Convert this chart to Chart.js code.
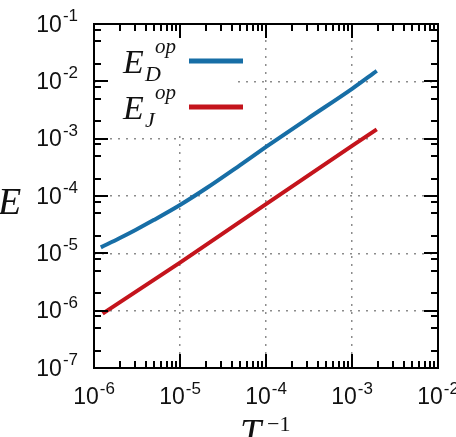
<!DOCTYPE html>
<html lang="en">
  <head>
    <meta charset="UTF-8" />
    <title>E vs T^-1</title>
    <style>
      html, body { margin: 0; padding: 0; background: #fff; }
      .box { width: 456px; height: 437px; }
    </style>
  </head>
  <body>
    <div class="box"><canvas id="myChart"></canvas></div>

    <script src="https://cdn.jsdelivr.net/npm/chart.js@4/dist/chart.umd.min.js"></script>

    <!-- data -->
    <script>
      var xD = [1.2e-6, 2e-6, 3e-6, 5e-6, 1e-5, 2e-5, 5e-5, 1e-4, 3e-4, 1e-3, 1.94e-3];
      var yD = [1.27e-5, 1.85e-5, 2.53e-5, 3.84e-5, 6.97e-5, 1.35e-4, 3.46e-4, 7.16e-4, 2.2e-3, 7.4e-3, 1.52e-2];
      var xJ = [1.26e-6, 1e-5, 1e-4, 1e-3, 1.94e-3];
      var yJ = [8.9e-7, 6.9e-6, 7.2e-5, 7.5e-4, 1.45e-3];
      var seriesSub = ["D", "J"];
      var seriesColor = ["#176ea6", "#c4141c"];
      var xTicks = [1e-6, 1e-5, 1e-4, 1e-3, 1e-2];
      var yTicks = [1e-7, 1e-6, 1e-5, 1e-4, 1e-3, 1e-2, 1e-1];
      var xMinor = [2, 3, 4, 5, 6, 7, 8, 9];
      var yMinor = [2, 5, 8];
    </script>

    <script>
      function pts(xs, ys) {
        return xs.map(function (x, i) { return { x: x, y: ys[i] }; });
      }

      // draws "10" with a raised exponent
      function pow10(ctx, v, x, base, align) {
        var e = String(Math.round(Math.log10(v)));
        ctx.font = "23px 'Liberation Sans', Arial, sans-serif";
        var w1 = ctx.measureText("10").width;
        ctx.font = "17px 'Liberation Sans', Arial, sans-serif";
        var w2 = ctx.measureText(e).width;
        var w = w1 + w2 + 1;
        var x0 = align === "right" ? x - w : x - w / 2;
        ctx.textAlign = "left";
        ctx.font = "23px 'Liberation Sans', Arial, sans-serif";
        ctx.fillText("10", x0, base);
        ctx.font = "17px 'Liberation Sans', Arial, sans-serif";
        ctx.fillText(e, x0 + w1 + 1, base - 10.5);
      }

      var decor = {
        id: "decor",
        afterDatasetsDraw: function (chart) {
          var ctx = chart.ctx;
          var a = chart.chartArea;
          var xs = chart.scales.x;
          var ys = chart.scales.y;
          ctx.save();

          // key background hides the grid
          ctx.fillStyle = "#fff";
          ctx.fillRect(a.left + 2, a.top + 2, 137, 109);

          // inner ticks on all four sides
          ctx.strokeStyle = "#000";
          ctx.lineWidth = 2;
          ctx.beginPath();
          for (var d = -6; d <= -2; d++) {
            var ms = d < -2 ? [1].concat(xMinor) : [1];
            ms.forEach(function (m) {
              var px = Math.round(xs.getPixelForValue(m * Math.pow(10, d)));
              var len = m === 1 ? 14 : 7;
              ctx.moveTo(px, a.bottom); ctx.lineTo(px, a.bottom - len);
              ctx.moveTo(px, a.top); ctx.lineTo(px, a.top + len);
            });
          }
          for (var k = -7; k <= -1; k++) {
            var my = k < -1 ? [1].concat(yMinor) : [1];
            my.forEach(function (m) {
              var py = Math.round(ys.getPixelForValue(m * Math.pow(10, k)));
              var len = m === 1 ? 14 : 7;
              ctx.moveTo(a.left, py); ctx.lineTo(a.left + len, py);
              ctx.moveTo(a.right, py); ctx.lineTo(a.right - len, py);
            });
          }
          ctx.stroke();
          ctx.strokeRect(a.left, a.top, a.right - a.left, a.bottom - a.top);

          // tick labels
          ctx.fillStyle = "#111";
          ctx.textBaseline = "alphabetic";
          xTicks.forEach(function (v) {
            pow10(ctx, v, xs.getPixelForValue(v), a.bottom + 36, "center");
          });
          yTicks.forEach(function (v) {
            pow10(ctx, v, a.left - 16, ys.getPixelForValue(v) + 7.5, "right");
          });

          // axis titles
          ctx.textAlign = "left";
          ctx.font = "italic 38px 'Liberation Serif', 'DejaVu Serif', serif";
          ctx.fillText("E", -2, 214);
          ctx.fillText("T", 240, 445);
          ctx.font = "22px 'Liberation Serif', 'DejaVu Serif', serif";
          ctx.fillText("\u22121", 267, 431);

          // key
          seriesSub.forEach(function (s, i) {
            var off = i * 46;
            ctx.fillStyle = "#111";
            ctx.font = "italic 34px 'Liberation Serif', 'DejaVu Serif', serif";
            ctx.fillText("E", 123, 73 + off);
            ctx.font = "italic 21px 'Liberation Serif', 'DejaVu Serif', serif";
            ctx.fillText("op", 155, 53 + off);
            ctx.font = "italic 22px 'Liberation Serif', 'DejaVu Serif', serif";
            ctx.fillText(s, 145, 81 + off);
            ctx.strokeStyle = seriesColor[i];
            ctx.lineWidth = 5;
            ctx.beginPath();
            ctx.moveTo(189, 61 + off);
            ctx.lineTo(243, 61 + off);
            ctx.stroke();
          });
          ctx.restore();
        },
      };

      var ctx = document.getElementById("myChart").getContext("2d");
      var myChart = new Chart(ctx, {
        type: "scatter",
        data: {
          datasets: [
            { label: "E_D^op", data: pts(xD, yD), borderColor: seriesColor[0], borderWidth: 4,
              showLine: true, pointRadius: 0, cubicInterpolationMode: "monotone" },
            { label: "E_J^op", data: pts(xJ, yJ), borderColor: seriesColor[1], borderWidth: 4,
              showLine: true, pointRadius: 0 },
          ],
        },
        options: {
          responsive: true,
          maintainAspectRatio: false,
          animation: false,
          layout: { padding: { left: 94, right: 18, top: 24, bottom: 69 } },
          plugins: { legend: { display: false }, tooltip: { enabled: false } },
          scales: {
            x: {
              type: "logarithmic", min: 1e-6, max: 1e-2,
              afterBuildTicks: function (s) { s.ticks = xTicks.map(function (v) { return { value: v }; }); },
              afterFit: function (s) { s.height = 0; },
              ticks: { display: false },
              grid: { color: "#8c8c8c", lineWidth: 1.5, drawTicks: false },
              border: { display: false, dash: [2, 6] },
            },
            y: {
              type: "logarithmic", min: 1e-7, max: 1e-1,
              afterBuildTicks: function (s) { s.ticks = yTicks.map(function (v) { return { value: v }; }); },
              afterFit: function (s) { s.width = 0; },
              ticks: { display: false },
              grid: { color: "#8c8c8c", lineWidth: 1.5, drawTicks: false },
              border: { display: false, dash: [2, 6] },
            },
          },
        },
        plugins: [decor],
      });
    </script>
  </body>
</html>
